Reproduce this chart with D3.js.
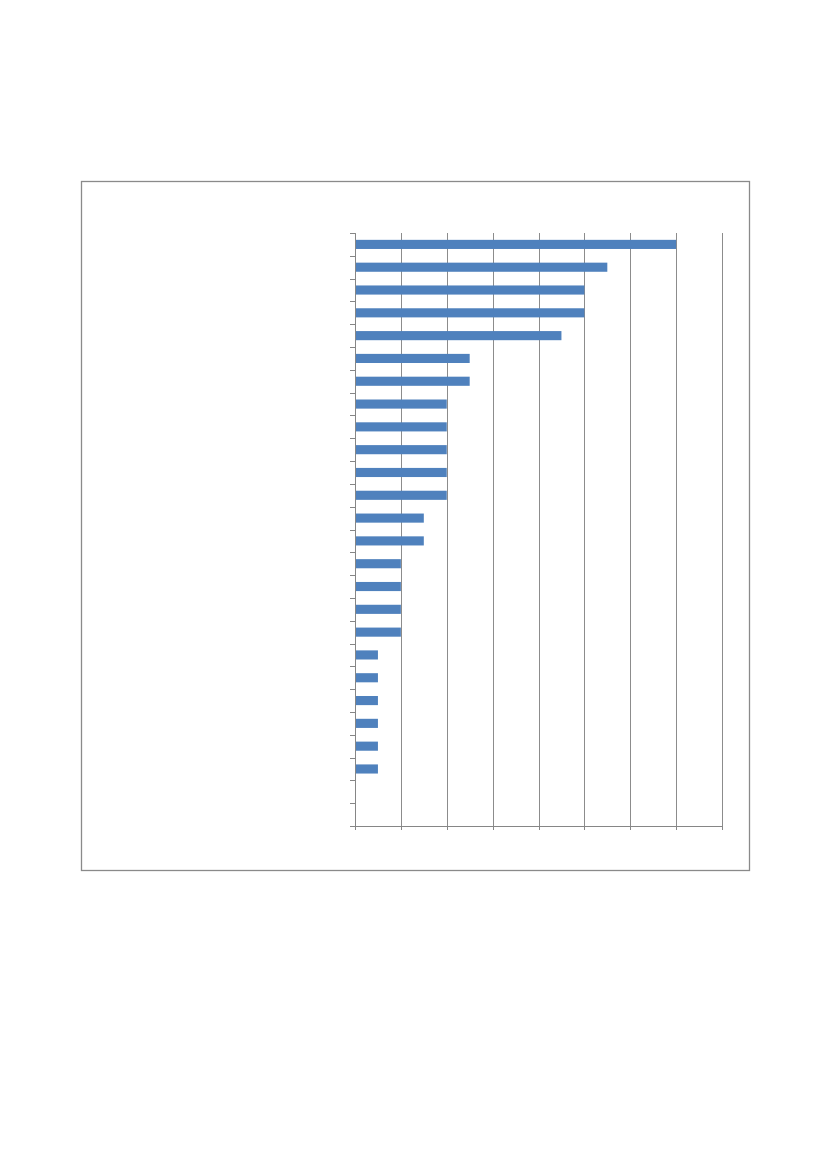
<!DOCTYPE html>
<html>
<head>
<meta charset="utf-8">
<script src="https://cdn.jsdelivr.net/npm/d3@7"></script>
<style>
  body { margin: 0; background: #fff; }
  .axis path, .axis line { stroke: #868686; shape-rendering: crispEdges; }
  .grid line { stroke: #8c8c8c; shape-rendering: crispEdges; }
  .grid path { display: none; }
</style>
</head>
<body>
<svg id="chart" width="827" height="1169"></svg>
<script>
// categories (no visible labels in the source)
var categories = ["c1","c2","c3","c4","c5","c6","c7","c8","c9","c10","c11","c12","c13",
                  "c14","c15","c16","c17","c18","c19","c20","c21","c22","c23","c24","c25","c26"];
var values = [14, 11, 10, 10, 9, 5, 5, 4, 4, 4, 4, 4, 3, 3, 2, 2, 2, 2, 1, 1, 1, 1, 1, 1, 0, 0];
var xTicks = [0, 2, 4, 6, 8, 10, 12, 14, 16];

var svg = d3.select("#chart");

// chart frame
svg.append("rect")
    .attr("x", 81.5).attr("y", 181.5)
    .attr("width", 668).attr("height", 689)
    .attr("fill", "#fff")
    .attr("stroke", "#8a8a8a")
    .attr("stroke-width", 1.3);

var plotLeft = 355, plotRight = 722, plotTop = 233, plotBottom = 826;

var x = d3.scaleLinear().domain([0, 16]).range([plotLeft, plotRight]);
var y = d3.scaleBand().domain(categories).range([plotTop, plotBottom]).paddingInner(0.6).paddingOuter(0.3);

// vertical gridlines
svg.append("g")
    .attr("class", "grid")
    .attr("transform", "translate(0," + plotBottom + ")")
    .call(d3.axisBottom(x).tickValues(xTicks).tickSize(-(plotBottom - plotTop)).tickFormat(""));

// bars
svg.append("g").selectAll("rect")
    .data(values)
    .enter().append("rect")
    .attr("x", x(0))
    .attr("y", function(d, i) { return y(categories[i]); })
    .attr("width", function(d) { return x(d) - x(0); })
    .attr("height", y.bandwidth())
    .attr("fill", "#4f81bd");

// y axis (ticks between categories)
var yEdge = d3.scaleLinear().domain([0, categories.length]).range([plotTop, plotBottom]);
svg.append("g")
    .attr("class", "axis")
    .attr("transform", "translate(" + plotLeft + ",0)")
    .call(d3.axisLeft(yEdge).tickValues(d3.range(categories.length + 1))
        .tickSize(5).tickSizeOuter(0).tickFormat(""));

// x axis
svg.append("g")
    .attr("class", "axis")
    .attr("transform", "translate(0," + plotBottom + ")")
    .call(d3.axisBottom(x).tickValues(xTicks).tickSize(4).tickSizeOuter(0).tickFormat(""));
</script>
</body>
</html>
